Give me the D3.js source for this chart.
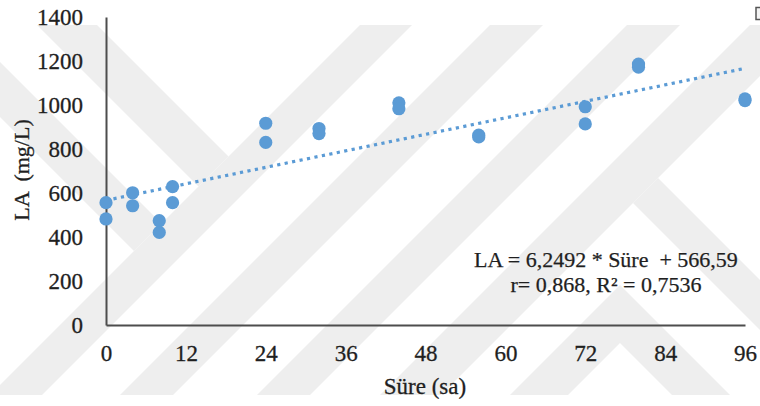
<!DOCTYPE html>
<html>
<head>
<meta charset="utf-8">
<script src="https://cdn.jsdelivr.net/npm/d3@7/dist/d3.min.js"></script>
<style>
  html, body { margin: 0; padding: 0; background: #ffffff; }
  svg { display: block; }
</style>
</head>
<body>
<svg id="chart" width="760" height="406"></svg>
<script>
// Sampling time (h) and lactic acid concentration (mg/L), replicate measurements
const times    = [0, 0, 4, 4, 8, 8, 10, 10, 24, 24, 32, 32, 44, 44, 56, 56, 72, 72, 80, 80, 96, 96];
const laValues = [556, 482, 601, 542, 474, 421, 629, 556, 917, 830, 893, 870, 1010, 983, 863, 855, 992, 914, 1186, 1172, 1028, 1020];

// Linear fit reported on the chart
const fitSlope = 6.2492;
const fitIntercept = 566.59;
const fitRange = [0, 96];

const xTicks = [0, 12, 24, 36, 48, 60, 72, 84, 96];
const yTicks = [0, 200, 400, 600, 800, 1000, 1200, 1400];

const eqLines = ["LA = 6,2492 * Süre  + 566,59", "r= 0,868, R² = 0,7536"];
const xTitle = "Süre (sa)";
const yTitle = "LA  (mg/L)";

const SERIF = '"Liberation Serif", "Times New Roman", Times, serif';
const INK = "#1f1f1f";

const svg = d3.select("#chart");

// ---- background watermark bands (light diagonal stripes) ----
const wm = svg.append("g").attr("fill", "#eeeeee");
const yTop = 25, yBot = 395;
const pts = arr => arr.map(p => p.join(",")).join(" ");
const meet = (d, c) => [(c + d) / 2, (c - d) / 2];   // x - y = d  ∩  x + y = c
// "/" bands given by x + y ranges
const slashBands = [[385, 437], [515, 568], [652, 705], [775, 836]];
slashBands.forEach(([c1, c2]) => {
  wm.append("polygon").attr("points", pts([
    [c1 - yTop, yTop], [c2 - yTop, yTop], [c2 - yBot, yBot], [c1 - yBot, yBot]
  ]));
});
// "\" arms joining the stripes
wm.append("polygon").attr("points", pts([[12 + yTop, yTop], [72 + yTop, yTop], meet(72, 385), meet(12, 385)]));
wm.append("polygon").attr("points", pts([[-10, 52], meet(-62, 385), meet(-117, 385), [-10, 107]]));
wm.append("polygon").attr("points", pts([meet(480, 836), [770, 290], [770, 340], meet(430, 836)]));
// inner chevron near the lower right
wm.append("polygon").attr("points", pts([
  meet(335, 905), [335 + yBot, yBot], [277 + yBot, yBot], meet(277, 963),
  [963 - yBot, yBot], [905 - yBot, yBot]
]));

// ---- scales ----
const x = d3.scaleLinear().domain([0, 96]).range([106, 745]);
const y = d3.scaleLinear().domain([0, 1400]).range([325, 17]);

// ---- axes ----
const fmt = d3.format("d");
const xAxis = d3.axisBottom(x).tickValues(xTicks).tickFormat(fmt).tickSize(0).tickPadding(20);
const yAxis = d3.axisLeft(y).tickValues(yTicks).tickFormat(fmt).tickSize(0).tickPadding(23);

const gx = svg.append("g").attr("transform", `translate(0,${y(0)})`).call(xAxis);
const gy = svg.append("g").attr("transform", `translate(${x(0)},0)`).call(yAxis);

[gx, gy].forEach(g => {
  g.attr("font-family", SERIF).attr("font-size", 23);
  g.select(".domain").attr("stroke", "#4d4d4d").attr("stroke-width", 2);
  g.selectAll("text").attr("fill", INK).attr("stroke", INK).attr("stroke-width", 0.3);
});
gy.selectAll("text").attr("dy", "0.33em");
gx.selectAll("text").attr("dy", "0.71em");

// ---- trend line ----
const fitLine = d3.line().x(d => x(d)).y(d => y(fitSlope * d + fitIntercept));
svg.append("path")
  .datum(fitRange)
  .attr("d", fitLine)
  .attr("fill", "none")
  .attr("stroke", "#5b9bd5")
  .attr("stroke-width", 3.2)
  .attr("stroke-dasharray", "3.2 4.4");

// ---- points ----
svg.append("g").selectAll("circle")
  .data(times.map((t, i) => ({ t, v: laValues[i] })))
  .join("circle")
  .attr("cx", d => x(d.t))
  .attr("cy", d => y(d.v))
  .attr("r", 6.6)
  .attr("fill", "#5b9bd5");

// ---- equation label ----
const eq = svg.append("text")
  .attr("text-anchor", "middle")
  .attr("font-family", SERIF)
  .attr("font-size", 22)
  .attr("fill", INK)
  .attr("stroke", INK).attr("stroke-width", 0.25)
  .style("white-space", "pre");
eqLines.forEach((s, i) => {
  eq.append("tspan").attr("x", 606).attr("y", 267 + i * 25).text(s);
});

// ---- axis titles ----
svg.append("text")
  .attr("x", 425).attr("y", 394)
  .attr("text-anchor", "middle")
  .attr("font-family", SERIF)
  .attr("font-size", 23)
  .attr("fill", INK)
  .attr("stroke", INK).attr("stroke-width", 0.3)
  .text(xTitle);

svg.append("text")
  .attr("transform", "translate(29,170) rotate(-90)")
  .attr("text-anchor", "middle")
  .attr("font-family", SERIF)
  .attr("font-size", 22)
  .attr("fill", INK)
  .attr("stroke", INK).attr("stroke-width", 0.3)
  .style("white-space", "pre")
  .text(yTitle);

// small frame corner at top right
svg.append("rect")
  .attr("x", 756).attr("y", 7.5).attr("width", 8).attr("height", 12)
  .attr("fill", "#f4f4f4").attr("stroke", "#555").attr("stroke-width", 1.5);
</script>
</body>
</html>
